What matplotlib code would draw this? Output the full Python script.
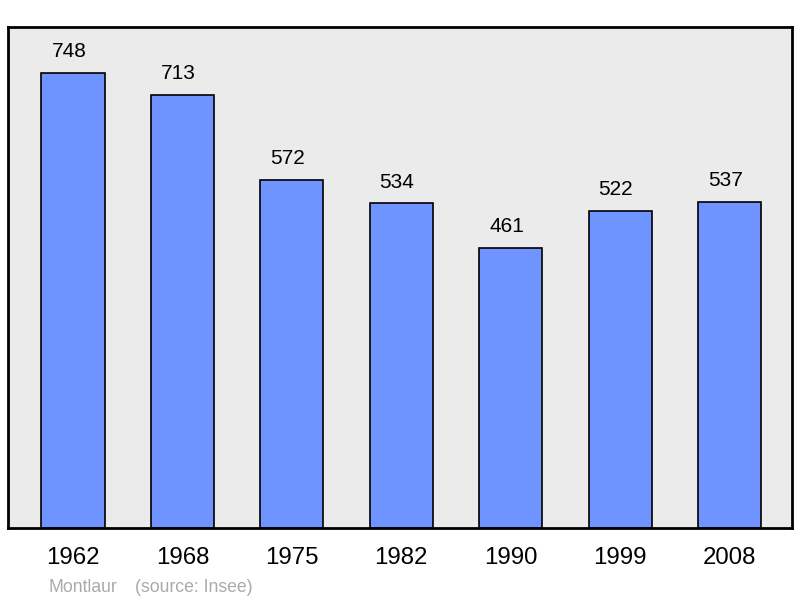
import matplotlib.pyplot as plt

plt.rcParams['font.family'] = ['Liberation Sans', 'DejaVu Sans']

years = ['1962', '1968', '1975', '1982', '1990', '1999', '2008']
population = [748, 713, 572, 534, 461, 522, 537]

fig = plt.figure(figsize=(8, 5.98), dpi=100)
ax = fig.add_axes([0.01, 0.117, 0.98, 0.8378])
ax.set_facecolor('#ebebeb')

x = list(range(len(years)))
ax.bar(x, population, width=0.576, color='#7094ff', edgecolor='black', linewidth=1.2, zorder=2)

# labels sit a little left of the bar centre in the original
for xi, v in zip(x, population):
    ax.annotate(str(v), (xi, v), xytext=(-3, 8.5), textcoords='offset points',
                ha='center', va='bottom', fontsize=15)

ax.set_xlim(-0.594, 6.571)
ax.set_ylim(0, 824)
ax.set_xticks(x)
ax.set_xticklabels(years, fontsize=17.3)
ax.tick_params(axis='x', length=0, pad=14)
ax.set_yticks([])
for s in ax.spines.values():
    s.set_linewidth(2)

fig.text(49 / 800, 1 - 587 / 598, 'Montlaur', color='#aaaaaa', fontsize=12.7, va='center')
fig.text(135 / 800, 1 - 587 / 598, '(source: Insee)', color='#aaaaaa', fontsize=12.7, va='center')

fig.savefig('out.png', dpi=100)
